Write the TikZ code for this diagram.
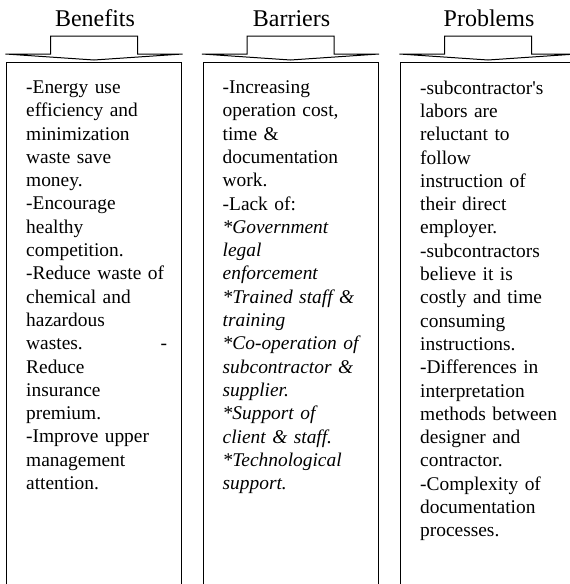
\documentclass[tikz,border=0pt]{standalone}
\usepackage{fontspec}
\setmainfont{Liberation Serif}
\begin{document}
\begin{tikzpicture}[x=1pt,y=-1pt,line join=miter,font=\fontsize{19.4}{23.3}\selectfont]
\tikzset{head/.style={font=\fontsize{24}{28}\selectfont,anchor=base,inner sep=0pt},
  txt/.style={anchor=north west,text width=141pt,align=left,inner sep=0pt},
  tabarrow/.style={line width=1pt},
  col/.style={line width=0.9pt}}
\useasboundingbox (0,0) rectangle (570,584);
% heads, arrows and open boxes
\foreach \cx/\name/\lab in {94/ben/Benefits,290.5/bar/Barriers,488/pro/Problems}{
  \node[head] (\name) at (\cx+1,26.5) {\lab};
  \draw[tabarrow] (\cx-88.5,54) -- (\cx-43.5,54) -- (\cx-43.5,36) -- (\cx+43.5,36)
    -- (\cx+43.5,54) -- (\cx+88.5,54) -- (\cx,60) -- cycle;
  \draw[col] (\cx-87.5,600) -- (\cx-87.5,62) -- (\cx+87.5,62) -- (\cx+87.5,600);
}
\node[txt] (bentext) at (26,80.5) {-Energy use\\
efficiency and\\
minimization\\
waste save\\
money.\\
-Encourage\\
healthy\\
competition.\\
-Reduce waste of\\
chemical and\\
hazardous\\
wastes.\hfill-\\
Reduce\\
insurance\\
premium.\\
-Improve upper\\
management\\
attention.};
\node[txt] (bartext) at (222.5,80.5) {-Increasing\\
operation cost,\\
time \&\\
documentation\\
work.\\
-Lack of:\\
\textit{*Government}\\
\textit{legal}\\
\textit{enforcement}\\
\textit{*Trained staff \&}\\
\textit{training}\\
\textit{*Co-operation of}\\
\textit{subcontractor \&}\\
\textit{supplier.}\\
\textit{*Support of}\\
\textit{client \& staff.}\\
\textit{*Technological}\\
\textit{support.}};
\node[txt] (protext) at (420,80.5) {-subcontractor\textquotesingle s\\
labors are\\
reluctant to\\
follow\\
instruction of\\
their direct\\
employer.\\
-subcontractors\\
believe it is\\
costly and time\\
consuming\\
instructions.\\
-Differences in\\
interpretation\\
methods between\\
designer and\\
contractor.\\
-Complexity of\\
documentation\\
processes.};
\end{tikzpicture}
\end{document}
